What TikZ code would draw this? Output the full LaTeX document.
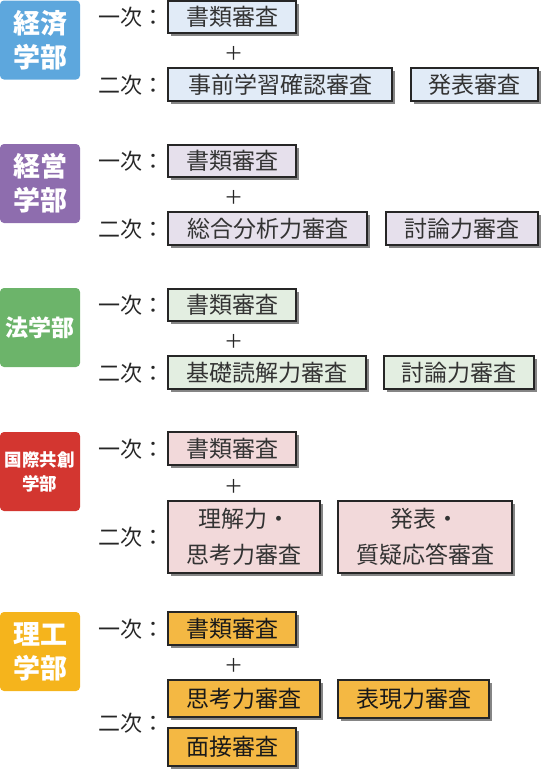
\documentclass[tikz,border=0pt]{standalone}
\usepackage{fontspec}
\setmainfont{Noto Sans CJK JP}
\usetikzlibrary{shadows}
\definecolor{dBlue}{HTML}{5DA7DD}
\definecolor{dPurple}{HTML}{8E6DAE}
\definecolor{dGreen}{HTML}{6CB46A}
\definecolor{dRed}{HTML}{D33630}
\definecolor{dOrange}{HTML}{F5B41C}
\definecolor{fBlue}{HTML}{E1EBF7}
\definecolor{fPurple}{HTML}{E6E0EC}
\definecolor{fGreen}{HTML}{E3EEE1}
\definecolor{fPink}{HTML}{F2D9DA}
\definecolor{fOrange}{HTML}{F4B843}
\definecolor{txt}{HTML}{333333}
\definecolor{shd}{HTML}{858585}
\tikzset{
  dept/.style={rounded corners=4pt, inner sep=0pt, text=white, font=\bfseries, align=center,
    minimum width=80pt, minimum height=79pt},
  exam/.style={draw=black!85, line width=1.2pt, inner sep=0pt, text=txt,
    font=\fontsize{23}{36}\selectfont, align=center,
    drop shadow={shadow xshift=3pt, shadow yshift=-3pt, fill=shd, opacity=1}},
  stage/.style={inner sep=0pt, text=black!85, font=\fontsize{22}{26}\selectfont},
  plus/.style={inner sep=0pt, text=black!85, font=\fontsize{19}{22}\selectfont},
}
\begin{document}
\begin{tikzpicture}[x=1pt,y=-1pt]
\useasboundingbox (0,0) rectangle (558,769);
% Section 1
\node[dept, fill=dBlue, font=\bfseries\fontsize{27}{34}\selectfont] (d1) at (40,40) {経済\\学部};
\node[stage] (s1a) at (131,17) {一次：};
\node[exam, fill=fBlue, minimum width=128pt, minimum height=32pt] (b1a) at (232,17) {書類審査};
\node[plus] (p1) at (233.5,53.5) {＋};
\node[stage] (s1b) at (131,85) {二次：};
\node[exam, fill=fBlue, minimum width=224pt, minimum height=33pt] (b1b) at (280,84.5) {事前学習確認審査};
\node[exam, fill=fBlue, minimum width=127pt, minimum height=33pt] (b1c) at (474.5,84.5) {発表審査};
% Section 2
\node[dept, fill=dPurple, font=\bfseries\fontsize{27}{34}\selectfont] (d2) at (40,183.5) {経営\\学部};
\node[stage] (s2a) at (131,161) {一次：};
\node[exam, fill=fPurple, minimum width=128pt, minimum height=32pt] (b2a) at (232,161) {書類審査};
\node[plus] (p2) at (233.5,197.5) {＋};
\node[stage] (s2b) at (131,229) {二次：};
\node[exam, fill=fPurple, minimum width=199pt, minimum height=33pt] (b2b) at (267.5,228.5) {総合分析力審査};
\node[exam, fill=fPurple, minimum width=152pt, minimum height=33pt] (b2c) at (462,228.5) {討論力審査};
% Section 3
\node[dept, fill=dGreen, font=\bfseries\fontsize{23}{30}\selectfont] (d3) at (40,327.5) {法学部};
\node[stage] (s3a) at (131,305) {一次：};
\node[exam, fill=fGreen, minimum width=128pt, minimum height=32pt] (b3a) at (232,305) {書類審査};
\node[plus] (p3) at (233.5,341.5) {＋};
\node[stage] (s3b) at (131,373) {二次：};
\node[exam, fill=fGreen, minimum width=198pt, minimum height=33pt] (b3b) at (267,372.5) {基礎読解力審査};
\node[exam, fill=fGreen, minimum width=150pt, minimum height=33pt] (b3c) at (459,372.5) {討論力審査};
% Section 4
\node[dept, fill=dRed, font=\bfseries\fontsize{17.5}{24}\selectfont] (d4) at (40,471.5) {国際共創\\学部};
\node[stage] (s4a) at (131,449) {一次：};
\node[exam, fill=fPink, minimum width=128pt, minimum height=33pt] (b4a) at (232,448.5) {書類審査};
\node[plus] (p4) at (233.5,486.5) {＋};
\node[stage] (s4b) at (131,537) {二次：};
\node[exam, fill=fPink, minimum width=152pt, minimum height=72pt] (b4b) at (244,537) {理解力・\\思考力審査};
\node[exam, fill=fPink, minimum width=174pt, minimum height=72pt] (b4c) at (425,537) {発表・\\質疑応答審査};
% Section 5
\node[dept, fill=dOrange, font=\bfseries\fontsize{27}{34}\selectfont] (d5) at (40,651.5) {理工\\学部};
\node[stage] (s5a) at (131,629) {一次：};
\node[exam, fill=fOrange, text=black!90, minimum width=128pt, minimum height=33pt] (b5a) at (232,628.5) {書類審査};
\node[plus] (p5) at (233.5,665.5) {＋};
\node[stage] (s5b) at (131,723) {二次：};
\node[exam, fill=fOrange, text=black!90, minimum width=152pt, minimum height=37pt] (b5b) at (244,698.5) {思考力審査};
\node[exam, fill=fOrange, text=black!90, minimum width=151pt, minimum height=38pt] (b5c) at (413.5,699) {表現力審査};
\node[exam, fill=fOrange, text=black!90, minimum width=128pt, minimum height=38pt] (b5d) at (232,747) {面接審査};
\end{tikzpicture}
\end{document}
